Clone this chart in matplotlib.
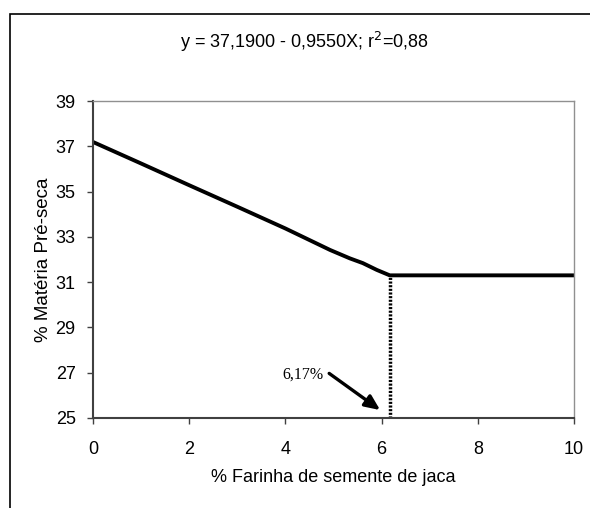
import matplotlib
matplotlib.use("Agg")
import matplotlib.pyplot as plt
from matplotlib.patches import Rectangle

plt.rcParams['font.family'] = ['Liberation Sans', 'DejaVu Sans']

# data
farinha = [0, 1, 2, 3, 4, 4.93, 5.34, 5.61, 5.9, 6.17, 7, 8, 9, 10]
materia = [37.19, 36.24, 35.28, 34.33, 33.37, 32.42, 32.05, 31.84, 31.54, 31.30,
           31.30, 31.30, 31.30, 31.30]
ponto_x = 6.17
ponto_y = 31.30
ponto_txt = "6,17%"
titulo = "y = 37,1900 - 0,9550X; r$^2$=0,88"

fig = plt.figure(figsize=(5.9, 5.08), dpi=100)
ax = fig.add_axes([93/590, 1 - 418/508, (574-93)/590, (418-101)/508])

# outer frame (cut at right and bottom)
fig.patches.append(Rectangle((10/590, -0.05), 1.0, 1 - 14/508 + 0.05,
                             transform=fig.transFigure, fill=False,
                             edgecolor='black', linewidth=1.2))

ax.plot(farinha, materia, color='black', linewidth=2.8, solid_capstyle='butt')
ax.plot([ponto_x, ponto_x], [25, ponto_y], color='black', linewidth=2.5,
        linestyle=(0, (0.6, 0.45)))

# label and arrow pointing at 6,17
ax.text(4.8, 26.92, ponto_txt, fontsize=11.5, family='Liberation Serif',
        ha='right', va='center')
ax.annotate('', xy=(5.97, 25.35), xytext=(4.91, 26.97),
            arrowprops=dict(arrowstyle='-|>,head_length=0.9,head_width=0.4',
                            color='black', linewidth=2.4, shrinkA=0, shrinkB=0))

ax.set_xlim(0, 10)
ax.set_ylim(25, 39)
ax.set_xticks(range(0, 11, 2))
ax.set_yticks(range(25, 40, 2))
ax.tick_params(direction='out', length=4.5, width=1, colors='#404040',
               labelsize=13, labelcolor='black')
ax.tick_params(axis='x', pad=12)
ax.tick_params(axis='y', pad=8)

for s in ['left', 'bottom']:
    ax.spines[s].set_color('#404040')
    ax.spines[s].set_linewidth(1.5)
for s in ['top', 'right']:
    ax.spines[s].set_color('#909090')
    ax.spines[s].set_linewidth(1.0)

ax.set_xlabel("% Farinha de semente de jaca", fontsize=13, va='center')
ax.xaxis.set_label_coords(0.5, -60/317)
ax.set_ylabel("% Matéria Pré-seca", fontsize=13.5, va='center')
ax.yaxis.set_label_coords(-50/481, 0.5)

fig.text(305/590, 1 - 42/508, titulo, fontsize=13, ha='center', va='center')

fig.savefig("out.png", dpi=100)
